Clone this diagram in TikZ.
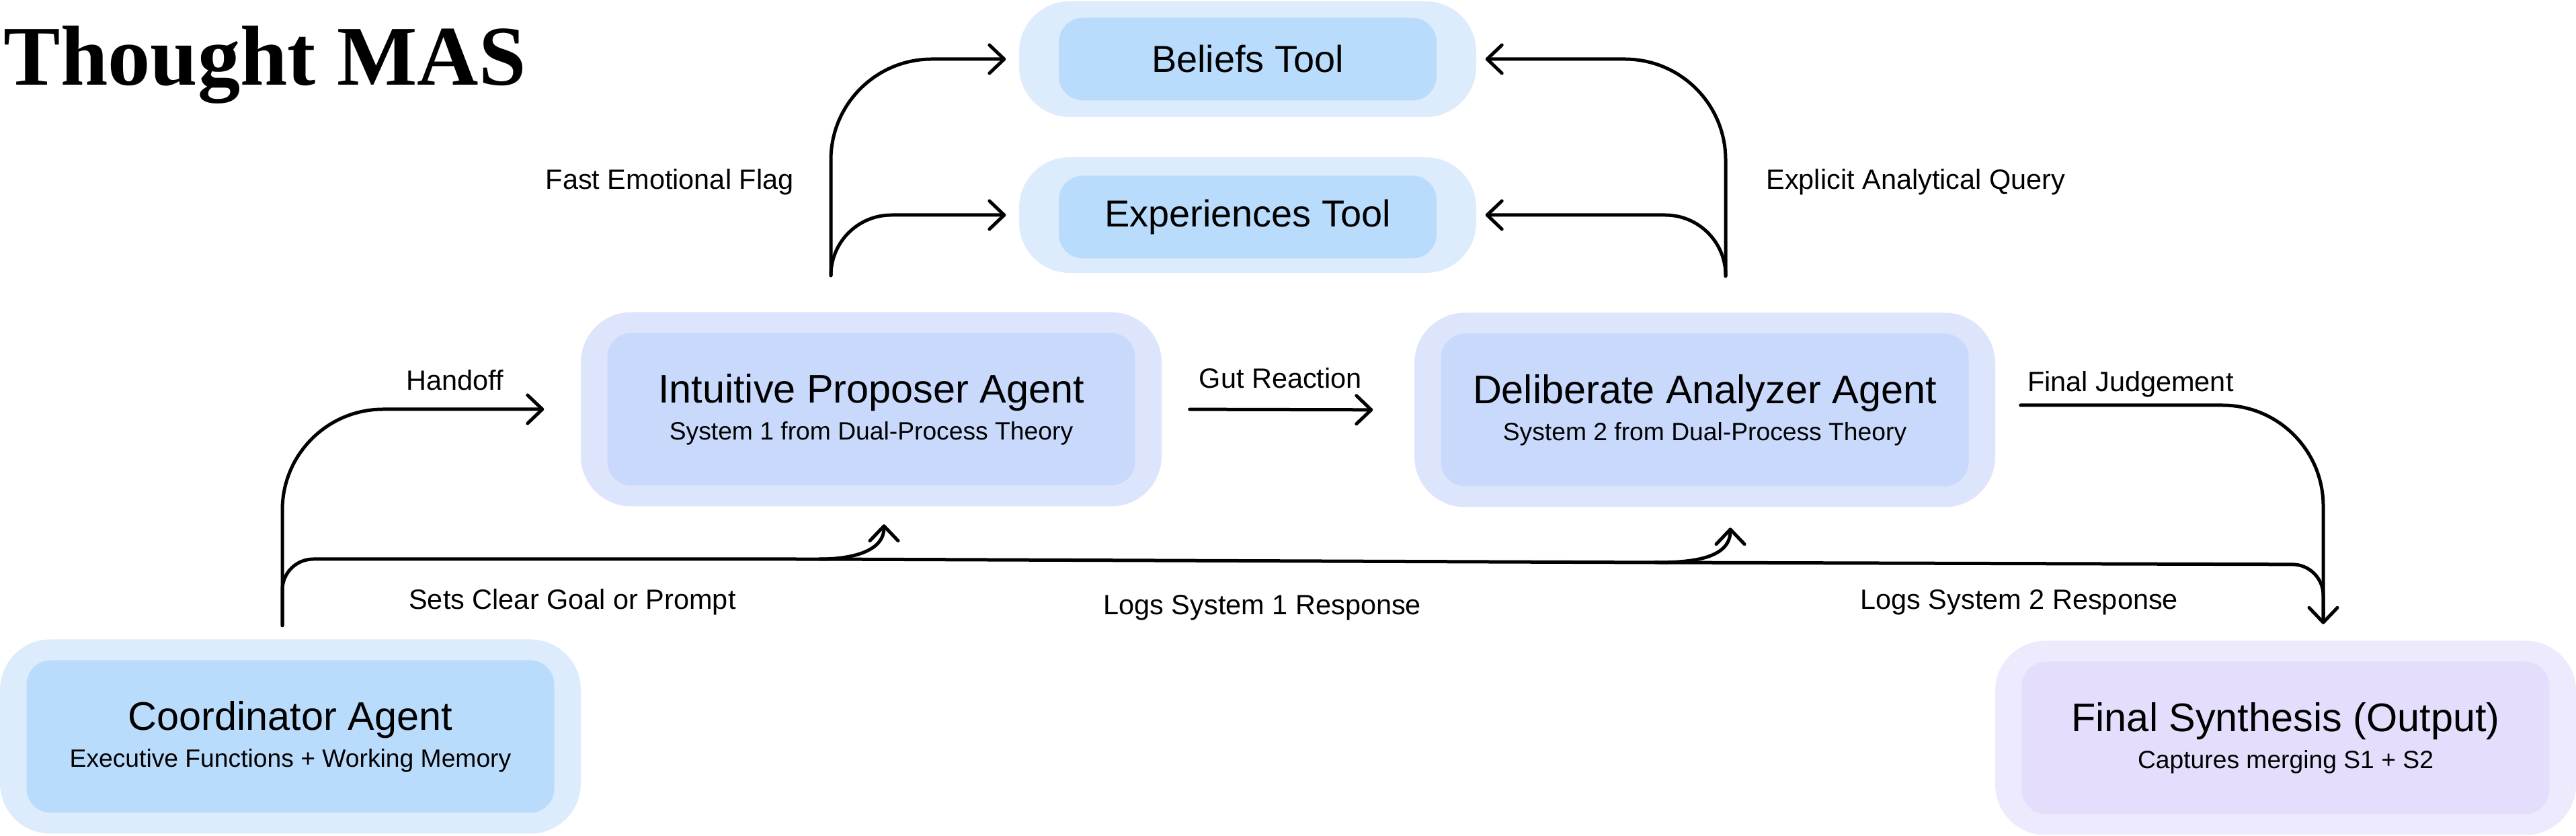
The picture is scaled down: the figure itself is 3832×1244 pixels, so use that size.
\documentclass[tikz,border=0pt]{standalone}
\usepackage{fontspec}
\setmainfont{Liberation Sans}
\newfontfamily\headserif{Liberation Serif}
\usepackage{xcolor}
\usetikzlibrary{arrows.meta}

\definecolor{blueouter}{RGB}{221,236,253}
\definecolor{blueinner}{RGB}{186,220,252}
\definecolor{agentouter}{RGB}{221,229,253}
\definecolor{agentinner}{RGB}{200,217,252}
\definecolor{outouter}{RGB}{237,234,253}
\definecolor{outinner}{RGB}{228,222,252}

\newcommand{\agentname}[1]{{\fontsize{16.9}{20}\selectfont #1}}

\begin{document}
\begin{tikzpicture}[x=0.1mm, y=-0.1mm,
    bigouter/.style={rectangle, rounded corners=7.5mm, minimum width=86.4mm, minimum height=28.9mm, inner sep=0pt},
    biginner/.style={rectangle, rounded corners=3.6mm, minimum width=78.5mm, minimum height=22.7mm, inner sep=0pt, align=center, font=\fontsize{10.6}{15.6}\selectfont},
    toolouter/.style={rectangle, rounded corners=7.5mm, minimum width=68mm, minimum height=17.2mm, inner sep=0pt},
    toolinner/.style={rectangle, rounded corners=3.6mm, minimum width=56.2mm, minimum height=12.3mm, inner sep=0pt, font=\fontsize{15.9}{19}\selectfont},
    flow/.style={line width=0.5mm, line cap=round, line join=round, -{Straight Barb[round, length=2.2mm, width=4.2mm]}},
    bus/.style={line width=0.5mm, line cap=round, line join=round},
    lbl/.style={inner sep=0pt, font=\fontsize{11.8}{14}\selectfont}]

    \path[use as bounding box, fill=white] (0,0) rectangle (3832,1244);

    \node[anchor=base west, inner sep=0pt, font=\headserif\bfseries\fontsize{36}{40}\selectfont] at (5,127) (title) {Thought MAS};

    % tools
    \node[toolouter, fill=blueouter] at (1856,88) (beliefs) {};
    \node[toolinner, fill=blueinner] at (beliefs) (beliefsIn) {Beliefs Tool};
    \node[toolouter, fill=blueouter] at (1856,320) (exper) {};
    \node[toolinner, fill=blueinner] at ([yshift=-0.3mm]exper.center) (experIn) {Experiences Tool};

    % agents
    \node[bigouter, fill=agentouter] at (1296,609) (intu) {};
    \node[biginner, fill=agentinner] at (intu) (intuIn) {\agentname{Intuitive Proposer Agent}\\System 1 from Dual-Process Theory};
    \node[bigouter, fill=agentouter] at (2536,610) (delib) {};
    \node[biginner, fill=agentinner] at (delib) (delibIn) {\agentname{Deliberate Analyzer Agent}\\System 2 from Dual-Process Theory};
    \node[bigouter, fill=blueouter] at (432,1096) (coord) {};
    \node[biginner, fill=blueinner] at (coord) (coordIn) {\agentname{Coordinator Agent}\\Executive Functions + Working Memory};
    \node[bigouter, fill=outouter] at (3400,1098) (final) {};
    \node[biginner, fill=outinner] at (final) (finalIn) {\agentname{Final Synthesis (Output)}\\Captures merging S1 + S2};

    \coordinate (cfork) at ([xshift=-1.2mm, yshift=2mm]coord.north);
    \coordinate (ifork) at ([xshift=-6mm, yshift=5.4mm]intu.north);
    \coordinate (dfork) at ([xshift=3.1mm, yshift=5.4mm]delib.north);
    \coordinate (b1) at (1219,832);
    \coordinate (b2) at (2462,837);

    % tool calls
    \draw[flow, rounded corners=15mm] (ifork) |- ([xshift=-1.9mm]beliefs.west)
        node[lbl, pos=0.2, anchor=base east, xshift=-5.3mm] {Fast Emotional Flag};
    \draw[flow, rounded corners=9mm] (ifork) |- ([xshift=-1.9mm]exper.west);
    \draw[flow, rounded corners=15mm] (dfork) |- ([xshift=1.3mm]beliefs.east)
        node[lbl, pos=0.2, anchor=base west, xshift=5.8mm] {Explicit Analytical Query};
    \draw[flow, rounded corners=9mm] (dfork) |- ([xshift=1.3mm]exper.east);

    % main flow
    \draw[flow, rounded corners=15mm] (cfork) |- ([xshift=-5.4mm]intu.west)
        node[lbl, pos=0.83, anchor=base, yshift=2.8mm] {Handoff};
    \draw[flow, shorten <=4.1mm, shorten >=6.1mm] (intu.east) -- (delib.west)
        node[lbl, pos=0.47, anchor=base, yshift=3.2mm] {Gut Reaction};
    \draw[flow, rounded corners=15mm, shorten <=3.7mm, shorten >=2.4mm] ([yshift=0.7mm]delib.east) -| ([xshift=5.6mm]final.north)
        node[lbl, pos=0.046, anchor=base west, yshift=2mm] {Final Judgement};

    % logging bus
    \draw[bus, rounded corners=4.6mm] (cfork) |- (b1)
        node[lbl, pos=0.77, anchor=base, yshift=-7.5mm] {Sets Clear Goal or Prompt}
        -- (b2) node[lbl, pos=0.53, anchor=base, yshift=-8mm] {Logs System 1 Response}
        -- (3456,840) node[lbl, pos=0.545, anchor=base, yshift=-6.8mm] {Logs System 2 Response}
        -- ([xshift=5.6mm, yshift=2.7mm]final.north);
    \draw[flow] (b1) to[out=0, in=-90] ([xshift=1.9mm, yshift=-2.6mm]intu.south);
    \draw[flow] (b2) to[out=0, in=-90] ([xshift=3.8mm, yshift=-3mm]delib.south);
\end{tikzpicture}
\end{document}
